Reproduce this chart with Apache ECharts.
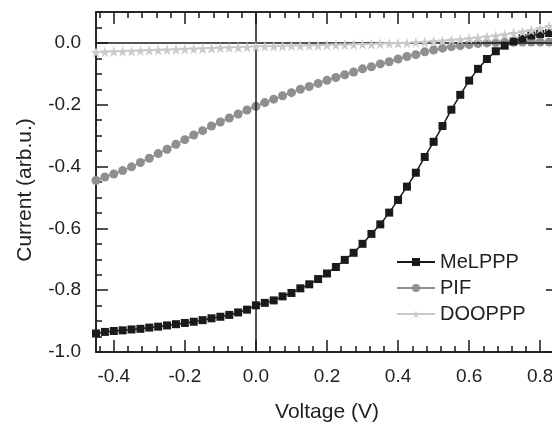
<!DOCTYPE html>
<html><head><meta charset="utf-8">
<script src="https://cdn.jsdelivr.net/npm/echarts@6/dist/echarts.min.js"></script>
<style>html,body{margin:0;padding:0;background:#fff}#c{width:552px;height:423px}</style>
</head><body><div id="c"></div>
<script>
const voltage = [-0.45,-0.425,-0.4,-0.375,-0.35,-0.325,-0.3,-0.275,-0.25,-0.225,-0.2,-0.175,-0.15,-0.125,-0.1,-0.075,-0.05,-0.025,
  0,0.025,0.05,0.075,0.1,0.125,0.15,0.175,0.2,0.225,0.25,0.275,0.3,0.325,0.35,0.375,0.4,0.425,0.45,0.475,0.5,0.525,0.55,0.575,
  0.6,0.625,0.65,0.675,0.7,0.725,0.75,0.775,0.8,0.825,0.85];
const meLPPP = [-0.940,-0.935,-0.932,-0.930,-0.927,-0.925,-0.921,-0.918,-0.914,-0.910,-0.906,-0.902,-0.897,-0.891,-0.886,-0.880,-0.872,-0.863,
  -0.849,-0.841,-0.833,-0.820,-0.809,-0.794,-0.781,-0.764,-0.746,-0.725,-0.702,-0.679,-0.650,-0.618,-0.587,-0.549,-0.508,-0.465,-0.420,-0.369,-0.320,-0.269,-0.216,-0.168,
  -0.122,-0.084,-0.052,-0.027,-0.009,0.005,0.015,0.024,0.029,0.032,0.034];
const pif = [-0.445,-0.434,-0.424,-0.413,-0.401,-0.387,-0.373,-0.358,-0.344,-0.328,-0.313,-0.298,-0.284,-0.269,-0.256,-0.243,-0.230,-0.217,
  -0.205,-0.193,-0.182,-0.171,-0.161,-0.150,-0.141,-0.131,-0.121,-0.112,-0.103,-0.094,-0.084,-0.077,-0.068,-0.061,-0.052,-0.044,-0.038,-0.029,-0.023,-0.017,-0.012,-0.009,
  -0.005,-0.002,0.000,0.001,0.002,0.002,0.003,0.003,0.003,0.003,0.003];
const dooppp = [-0.030,-0.029,-0.028,-0.027,-0.026,-0.025,-0.024,-0.023,-0.022,-0.021,-0.020,-0.019,-0.018,-0.017,-0.016,-0.015,-0.014,-0.013,
  -0.012,-0.011,-0.011,-0.010,-0.009,-0.009,-0.008,-0.008,-0.007,-0.006,-0.006,-0.005,-0.004,-0.004,-0.003,-0.002,-0.001,0.000,0.002,0.003,0.005,0.007,0.009,0.011,
  0.014,0.017,0.020,0.023,0.027,0.031,0.036,0.041,0.047,0.054,0.062];
const seriesNames = ['MeLPPP','PIF','DOOPPP'];
const xMajorTicks = [-0.4,-0.2,0,0.2,0.4,0.6,0.8];
const xMinorTicks = [-0.44,-0.36,-0.32,-0.28,-0.24,-0.16,-0.12,-0.08,-0.04,0.04,0.08,0.12,0.16,0.24,0.28,0.32,0.36,0.44,0.48,0.52,0.56,0.64,0.68,0.72,0.76,0.84];
const yMajorTicks = [-1.0,-0.8,-0.6,-0.4,-0.2,0.0];
const yMinorTicks = [-0.95,-0.9,-0.85,-0.75,-0.7,-0.65,-0.55,-0.5,-0.45,-0.35,-0.3,-0.25,-0.15,-0.1,-0.05,0.05];

const FONT = 'Liberation Sans, Arial, Helvetica, sans-serif';
const INK = '#1a1a1a';

function axis(kind, pos, ticks, len, showLabel, name) {
  const isX = kind === 'x';
  const a = {
    type: 'value', position: pos,
    min: isX ? -0.45 : -1.0, max: isX ? 0.85 : 0.1,
    axisLine: {show: true, onZero: false, lineStyle: {color: INK, width: 1.5}},
    axisTick: {show: true, inside: true, length: len, customValues: ticks, lineStyle: {color: INK, width: 1.5}},
    axisLabel: {show: showLabel, customValues: ticks, margin: 15, fontSize: 19, color: '#222', fontFamily: FONT,
      formatter: v => v.toFixed(1)},
    splitLine: {show: false}, minorTick: {show: false}, minorSplitLine: {show: false}
  };
  if (name) {
    a.name = name; a.nameLocation = 'middle';
    a.nameGap = isX ? 50 : 60;
    a.nameTextStyle = {fontSize: 21, color: '#222', fontFamily: FONT, padding: isX ? 0 : [0, 16, 0, 0]};
  }
  return a;
}

const chart = echarts.init(document.getElementById('c'), null, {renderer: 'canvas'});
const starPath = 'path://M50,0 L61,35 L98,35 L68,57 L79,91 L50,70 L21,91 L32,57 L2,35 L39,35 Z';
const toPairs = ys => voltage.map((x, i) => [x, ys[i]]);

chart.setOption({
  animation: false,
  backgroundColor: '#fff',
  grid: {left: 96, right: -6, top: 12, bottom: 71, containLabel: false, outerBoundsMode: 'none'},
  xAxis: [
    axis('x', 'bottom', xMajorTicks, 12, true, 'Voltage (V)'),
    axis('x', 'bottom', xMinorTicks, 6, false),
    axis('x', 'top', xMajorTicks, 12, false),
    axis('x', 'top', xMinorTicks, 6, false)
  ],
  yAxis: [
    axis('y', 'left', yMajorTicks, 12, true, 'Current (arb.u.)'),
    axis('y', 'left', yMinorTicks, 6, false),
    axis('y', 'right', yMajorTicks, 12, false),
    axis('y', 'right', yMinorTicks, 6, false)
  ],
  legend: {
    orient: 'vertical', left: 391, top: 247, itemWidth: 38, itemHeight: 10, itemGap: 6,
    textStyle: {fontSize: 20, color: '#222', fontFamily: FONT},
    data: seriesNames
  },
  series: [
    {
      name: seriesNames[0], type: 'line', data: toPairs(meLPPP), xAxisIndex: 0, yAxisIndex: 0,
      symbol: 'rect', symbolSize: 8, showAllSymbol: true,
      itemStyle: {color: INK}, lineStyle: {color: INK, width: 1.5},
      emphasis: {disabled: true}, z: 4,
      markLine: {silent: true, symbol: ['none', 'none'], label: {show: false},
        lineStyle: {color: INK, width: 1.5, type: 'solid'}, emphasis: {disabled: true},
        data: [{xAxis: 0}, {yAxis: 0}]}
    },
    {
      name: seriesNames[1], type: 'line', data: toPairs(pif), xAxisIndex: 0, yAxisIndex: 0,
      symbol: 'circle', symbolSize: 9, showAllSymbol: true,
      itemStyle: {color: '#8e9090'}, lineStyle: {color: '#8e9090', width: 1.5},
      emphasis: {disabled: true}, z: 3
    },
    {
      name: seriesNames[2], type: 'line', data: toPairs(dooppp), xAxisIndex: 0, yAxisIndex: 0,
      symbol: starPath, symbolSize: 11, showAllSymbol: true,
      itemStyle: {color: '#cacaca'}, lineStyle: {color: '#cacaca', width: 1.5},
      emphasis: {disabled: true}, z: 5
    }
  ]
});
</script></body></html>
